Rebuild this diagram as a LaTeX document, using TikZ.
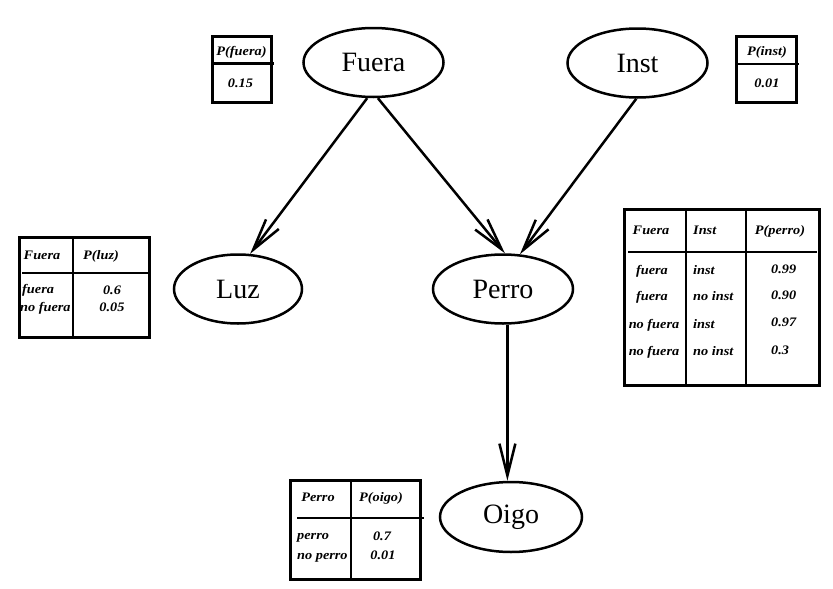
\documentclass[tikz,border=0pt]{standalone}
\usepackage{fontspec}
\setmainfont{Liberation Serif}
\newfontfamily\tabfont[FakeStretch=1.1]{Liberation Serif}
\usetikzlibrary{arrows.meta,shapes.geometric}
\begin{document}
\begin{tikzpicture}[x=1pt,y=-1pt,
  var/.style={ellipse, draw, line width=2.5pt, minimum width=140pt, minimum height=69pt, inner sep=0pt, font=\fontsize{28}{30}\selectfont},
  edge/.style={line width=2.5pt, -{Straight Barb[length=32pt,width=16pt]}},
  tbl/.style={draw, line width=3pt},
  rule/.style={line width=2.5pt},
  tt/.style={font=\tabfont\bfseries\itshape\fontsize{13}{15}\selectfont, inner sep=0pt, text height=9pt, text depth=3pt},
]
\useasboundingbox (0,0) rectangle (833,589);

% variables
\node[var] (fuera) at (373.5,62.5) {Fuera};
\node[var] (inst) at (637.5,63) {Inst};
\node[var, minimum width=128pt] (luz) at (238,289) {Luz};
\node[var] (perro) at (503,289) {Perro};
\node[var, minimum width=142pt, minimum height=70pt] (oigo) at (511,517) {Oigo};

% edges
\draw[edge] (fuera.-100) -- (luz.71);
\draw[edge] (fuera.-83) -- (perro.87);
\draw[edge] (inst.-92) -- (perro.64);
\draw[edge] (perro.-83) -- (perro.-83 |- oigo.north);

% table P(fuera)
\draw[tbl] (212,36) rectangle (271,102);
\draw[rule] (212,63.5) -- (273.5,63.5);
\node[tt] (pf) at (241.5,52) {P(fuera)};
\node[tt] (pfv) at (240.5,84) {0.15};

% table P(inst)
\draw[tbl] (736,36) rectangle (796,102);
\draw[rule] (736,64) -- (798.5,64);
\node[tt] (pi) at (767,52) {P(inst)};
\node[tt] (piv) at (767,84) {0.01};

% table P(luz)
\draw[tbl] (19,237) rectangle (149,337);
\draw[rule] (73,237) -- (73,337);
\draw[rule] (22,273) -- (148,273);
\node[tt] (lh1) at (42,256) {Fuera};
\node[tt] (lh2) at (101,256) {P(luz)};
\node[tt, anchor=west] (lr1) at (22,290) {fuera};
\node[tt, anchor=west] (lr2) at (20,308) {no fuera};
\node[tt] (lv1) at (112,291) {0.6};
\node[tt] (lv2) at (112,308) {0.05};

% table P(perro)
\draw[tbl] (624,209) rectangle (819,385);
\draw[rule] (686,209) -- (686,385);
\draw[rule] (746,209) -- (746,385);
\draw[rule] (628,252) -- (817,252);
\node[tt] (ph1) at (651,231) {Fuera};
\node[tt, anchor=west] (ph2) at (693,231) {Inst};
\node[tt] (ph3) at (780,231) {P(perro)};
\node[tt] (pa1) at (652,271) {fuera};
\node[tt] (pa2) at (652,297) {fuera};
\node[tt] (pa3) at (654,325) {no fuera};
\node[tt] (pa4) at (654,352) {no fuera};
\node[tt, anchor=west] (pb1) at (693,271) {inst};
\node[tt, anchor=west] (pb2) at (693,297) {no inst};
\node[tt, anchor=west] (pb3) at (693,325) {inst};
\node[tt, anchor=west] (pb4) at (693,352) {no inst};
\node[tt, anchor=west] (pc1) at (771,270) {0.99};
\node[tt, anchor=west] (pc2) at (771,296) {0.90};
\node[tt, anchor=west] (pc3) at (771,323) {0.97};
\node[tt, anchor=west] (pc4) at (771,351) {0.3};

% table P(oigo)
\draw[tbl] (290,480) rectangle (420,579);
\draw[rule] (351,480) -- (351,579);
\draw[rule] (297,518) -- (424,518);
\node[tt] (oh1) at (318,498) {Perro};
\node[tt] (oh2) at (381,498) {P(oigo)};
\node[tt, anchor=west] (or1) at (297,536) {perro};
\node[tt, anchor=west] (or2) at (297,556) {no perro};
\node[tt] (ov1) at (382,537) {0.7};
\node[tt] (ov2) at (383,556) {0.01};
\end{tikzpicture}
\end{document}
